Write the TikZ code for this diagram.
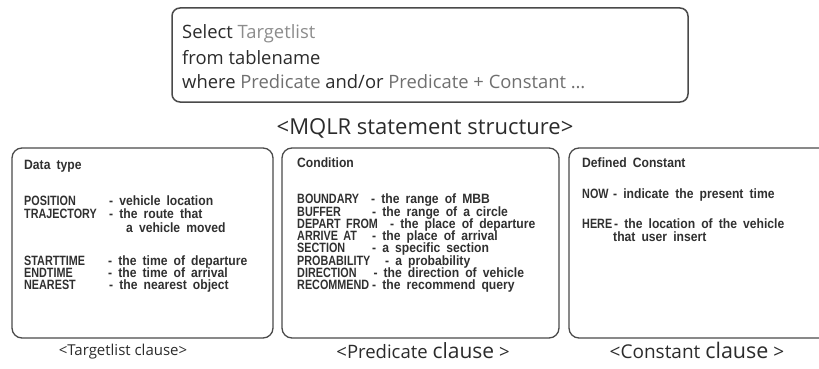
\documentclass[tikz,border=0pt]{standalone}
\usepackage{fontspec}
\setmainfont{Open Sans}
% condensed bold face for the upper-case keywords, a little wider one for the descriptions
\newfontfamily\keyfont[FakeStretch=0.8,WordSpace=1.8]{Liberation Sans Bold}
\newfontfamily\descfont[FakeStretch=0.9,WordSpace=1.8]{Liberation Sans Bold}
\definecolor{ink}{HTML}{2B2B2B}
\definecolor{listink}{HTML}{303030}
\definecolor{soft}{HTML}{8C8C8C}
\definecolor{mid}{HTML}{6F6F6F}
\definecolor{frame}{HTML}{4A4A4A}
\begin{document}
\begin{tikzpicture}[x=1pt,y=-1pt,
  panel/.style={draw=frame, line width=1.3pt, rounded corners=10pt},
  query/.style={anchor=base west, inner sep=0pt, text=ink,
    font=\fontsize{18.4}{20}\selectfont},
  entry/.style={anchor=base west, inner sep=0pt, text=listink,
    font=\keyfont\fontsize{13.5}{15}\selectfont},
  desc/.style={anchor=base west, inner sep=0pt, text=listink,
    font=\descfont\fontsize{13.5}{15}\selectfont},
  caption/.style={anchor=base, inner sep=0pt, text=ink}]
\clip (0,0) rectangle (819,369);
\useasboundingbox (0,0) rectangle (819,369);

% statement frame
\draw[panel, line width=1.5pt, rounded corners=8pt] (172,8) rectangle (688,102);
\node[query] (sel) at (182,39) {Select \textcolor{soft}{Targetlist}};
\node[query] (frm) at (182,64) {from tablename};
\node[query] (whr) at (182,88.5) {where \textcolor{mid}{Predicate} and/or \textcolor{mid}{Predicate + Constant …}};
\node[caption, font=\fontsize{22}{24}\selectfont] (mqlr) at (425,134.5) {<MQLR statement structure>};

% three clause panels
\draw[panel] (12,148) rectangle (273,338);
\draw[panel] (282,148) rectangle (559,338);
\draw[panel] (569,148) rectangle (840,338);

% targetlist panel
\node[desc]  (dt)  at (24,169.5) {Data type};
\node[entry] (t1)  at (24,205.5) {POSITION};
\node[desc]  (d1)  at (109,205.5) {- vehicle location};
\node[entry] (t2)  at (24,218) {TRAJECTORY};
\node[desc]  (d2)  at (109,218) {- the route that};
\node[desc]  (d2b) at (126,232) {a vehicle moved};
\node[entry] (t3)  at (24,265.2) {STARTTIME};
\node[desc]  (d3)  at (108,265.2) {- the time of departure};
\node[entry] (t4)  at (24,277.4) {ENDTIME};
\node[desc]  (d4)  at (108,277.4) {- the time of arrival};
\node[entry] (t5)  at (24,289.6) {NEAREST};
\node[desc]  (d5)  at (109,289.6) {- the nearest object};

% predicate panel
\node[desc]  (cd)  at (297,167.5) {Condition};
\node[entry] (p1)  at (297,203.8) {BOUNDARY};
\node[desc]  (q1)  at (371,203.8) {- the range of MBB};
\node[entry] (p2)  at (297,216.2) {BUFFER};
\node[desc]  (q2)  at (372,216.2) {- the range of a circle};
\node[entry] (p3)  at (297,228.5) {DEPART FROM};
\node[desc]  (q3)  at (390,228.5) {- the place of departure};
\node[entry] (p4)  at (297,240.8) {ARRIVE AT};
\node[desc]  (q4)  at (372,240.8) {- the place of arrival};
\node[entry] (p5)  at (297,252.9) {SECTION};
\node[desc]  (q5)  at (372,252.9) {- a specific section};
\node[entry] (p6)  at (297,265.2) {PROBABILITY};
\node[desc]  (q6)  at (385,265.2) {- a probability};
\node[entry] (p7)  at (297,277.4) {DIRECTION};
\node[desc]  (q7)  at (373.3,277.4) {- the direction of vehicle};
\node[entry] (p8)  at (297,289.6) {RECOMMEND};
\node[desc]  (q8)  at (372,289.6) {- the recommend query};

% constant panel
\node[desc]  (dc)  at (582,167.5) {Defined Constant};
\node[entry] (c1)  at (582,198.5) {NOW};
\node[desc]  (e1)  at (613,198.5) {- indicate the present time};
\node[entry] (c2)  at (582,228.8) {HERE};
\node[desc]  (e2)  at (614,228.8) {- the location of the vehicle};
\node[desc]  (e2b) at (613,241.2) {that user insert};

% captions
\node[caption, font=\fontsize{15}{18}\selectfont] (capt) at (123,355) {<Targetlist clause>};
\node[caption, font=\fontsize{18.5}{20}\selectfont] (capp) at (423,358)
  {<Predicate {\fontsize{21}{22}\selectfont clause} >};
\node[caption, font=\fontsize{19}{20}\selectfont] (capc) at (697,358)
  {<Constant {\fontsize{21.5}{22}\selectfont clause} >};
\end{tikzpicture}
\end{document}
